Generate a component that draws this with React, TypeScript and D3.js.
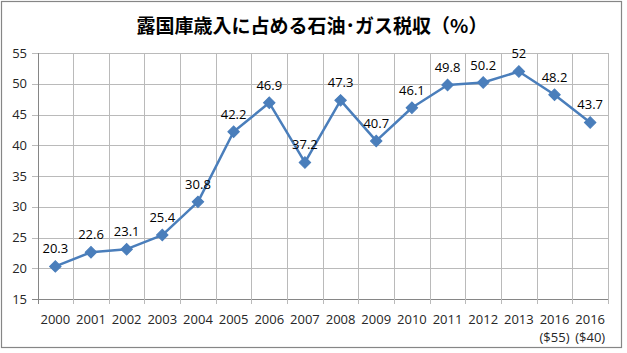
import { scaleBand, scaleLinear, line, symbol, symbolSquare, range } from 'd3'

const categories = ['2000', '2001', '2002', '2003', '2004', '2005', '2006', '2007', '2008', '2009', '2010', '2011', '2012', '2013', '2016\n($55)', '2016\n($40)']
const values = [20.3, 22.6, 23.1, 25.4, 30.8, 42.2, 46.9, 37.2, 47.3, 40.7, 46.1, 49.8, 50.2, 52, 48.2, 43.7]
const yTicks = [15, 20, 25, 30, 35, 40, 45, 50, 55]
const title = '露国庫歳入に占める石油･ガス税収（%）'

const W = 627
const H = 353
const font = '"Open Sans", "Noto Sans", sans-serif'

export default function App() {
  const x = scaleBand<number>().domain(range(categories.length)).range([37.5, 608]).padding(0)
  const y = scaleLinear().domain([15, 55]).range([299, 53])
  const cx = (i: number) => (x(i) ?? 0) + x.bandwidth() / 2

  const path = line<number>()
    .x((_, i) => cx(i))
    .y((d) => y(d))(values)

  // excel style marker: a square turned 45 degrees
  const diamond = symbol().type(symbolSquare).size(66)()

  const bounds = range(categories.length + 1).map((i) => (i < categories.length ? x(i) ?? 0 : x.range()[1]))

  return (
    <svg width={W} height={H} style={{ position: 'absolute', left: 0, top: 0, background: '#fff' }}>
      <rect x={1.5} y={1.5} width={620} height={346} fill="#fff" stroke="#868686" strokeWidth={1.2} />
      <text x={312} y={33} textAnchor="middle" fontFamily='"Noto Sans CJK JP", sans-serif' fontWeight="bold" fontSize={19} fill="#000">
        {title}
      </text>

      {/* horizontal grid + y ticks */}
      {yTicks.map((t) => (
        <g key={t}>
          <line x1={32} x2={608} y1={Math.round(y(t)) + 0.5} y2={Math.round(y(t)) + 0.5} stroke={t === 15 ? '#868686' : '#bababa'} strokeWidth={1} />
          <text x={27} y={y(t)} dy="0.35em" textAnchor="end" fontFamily={font} fontSize={13} fill="#262626">
            {t}
          </text>
        </g>
      ))}

      {/* vertical grid + x ticks */}
      {bounds.map((bx, i) => (
        <line key={i} x1={Math.round(bx) + 0.5} x2={Math.round(bx) + 0.5} y1={53} y2={304} stroke={i === 0 ? '#868686' : '#bababa'} strokeWidth={1} />
      ))}

      {categories.map((c, i) => (
        <text key={c + i} x={cx(i)} y={324} textAnchor="middle" fontFamily={font} fontSize={13} fill="#262626">
          {c.split('\n').map((part, j) => (
            <tspan key={j} x={cx(i)} dy={j === 0 ? 0 : 18}>
              {part}
            </tspan>
          ))}
        </text>
      ))}

      <path d={path ?? ''} fill="none" stroke="#4a7ebb" strokeWidth={2.5} strokeLinejoin="round" />
      {values.map((v, i) => (
        <path key={i} d={diamond ?? ''} transform={`translate(${cx(i)},${y(v)}) rotate(45)`} fill="#4a7ebb" stroke="#4a7ebb" strokeWidth={1} />
      ))}

      {values.map((v, i) => (
        <text key={'l' + i} x={cx(i)} y={y(v) - 13} textAnchor="middle" fontFamily={font} fontSize={13} fill="#000">
          {v}
        </text>
      ))}
    </svg>
  )
}
